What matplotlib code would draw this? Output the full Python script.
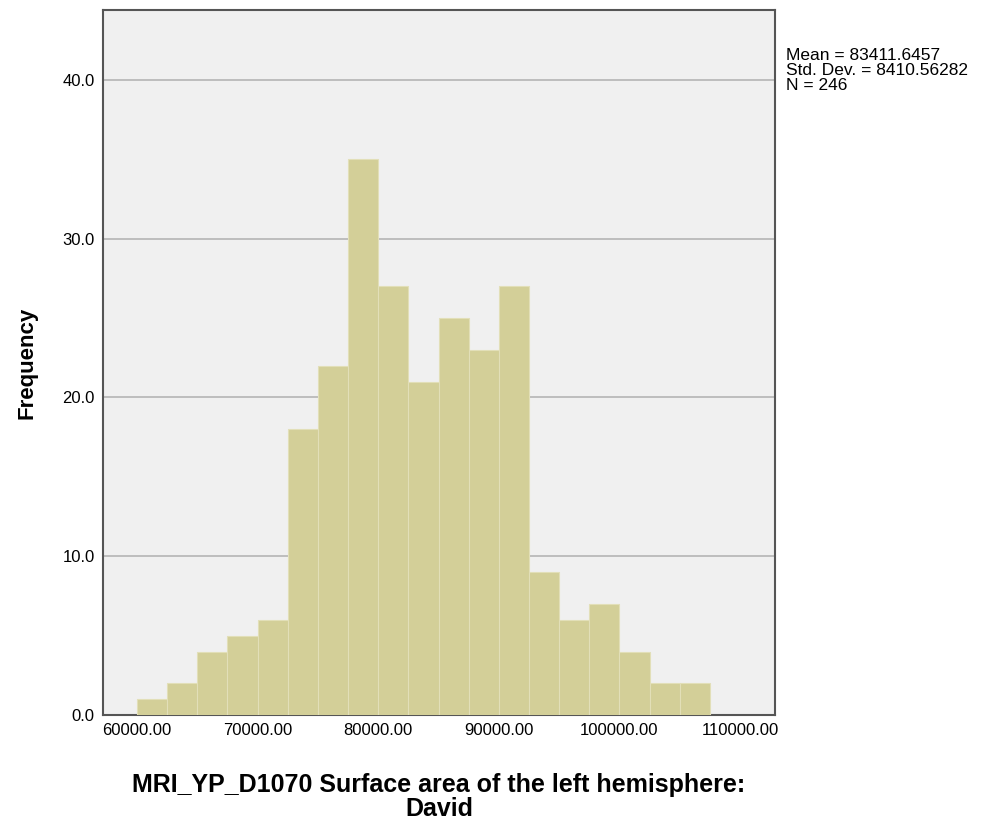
import numpy as np
import matplotlib
matplotlib.use("Agg")
import matplotlib.pyplot as plt

# histogram of surface area, bins of 2500 starting at 60000
bin_start = 60000
bin_width = 2500
counts = [1, 2, 4, 5, 6, 18, 22, 35, 27, 21, 25, 23, 27, 9, 6, 7, 4, 2, 2]
x_ticks = [60000, 70000, 80000, 90000, 100000, 110000]
y_ticks = [0, 10, 20, 30, 40]
stats_lines = ["Mean = 83411.6457", "Std. Dev. = 8410.56282", "N = 246"]

plt.rcParams["font.family"] = ["Liberation Sans", "DejaVu Sans"]

fig = plt.figure(figsize=(9.81, 8.25), dpi=100)
ax = fig.add_axes([0.105, 0.1333, 0.685, 0.8546])
ax.set_facecolor("#f0f0f0")

edges = bin_start + bin_width * np.arange(len(counts) + 1)
ax.bar(edges[:-1], counts, width=bin_width, align="edge",
       color="#d3cf98", edgecolor="#e2dfb8", linewidth=0.8, zorder=3)

ax.set_xlim(57180, 112900)
ax.set_ylim(0, 44.4)
ax.set_xticks(x_ticks)
ax.set_xticklabels([f"{v}.00" for v in x_ticks], fontsize=12)
ax.set_yticks(y_ticks)
ax.set_yticklabels([f"{v:.1f}" for v in y_ticks], fontsize=12)
ax.tick_params(length=0, pad=6)
ax.yaxis.grid(True, color="#b4b4b4", linewidth=1.2, zorder=1)
ax.set_axisbelow(True)
for s in ax.spines.values():
    s.set_color("#555555")
    s.set_linewidth(1.5)

ax.set_ylabel("Frequency", fontsize=16, fontweight="bold", labelpad=18)
ax.set_xlabel("MRI_YP_D1070 Surface area of the left hemisphere:\nDavid",
              fontsize=18, fontweight="bold", labelpad=25, linespacing=1.0)

fig.text(0.801, 0.942, "\n".join(stats_lines), fontsize=12.5, va="top",
         ha="left", linespacing=1.0)

fig.savefig("out.png", dpi=100)
